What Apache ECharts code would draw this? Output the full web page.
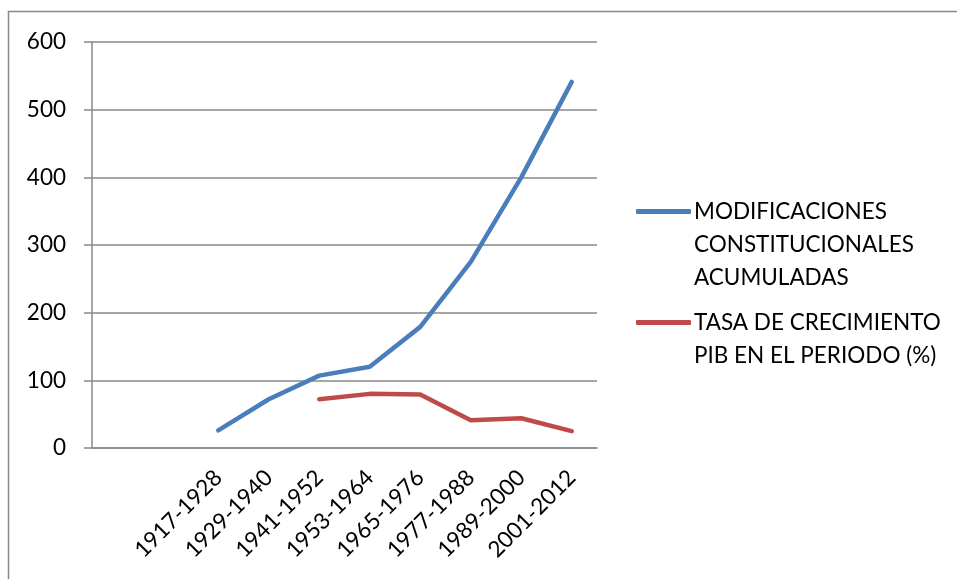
<!DOCTYPE html>
<html>
<head>
<meta charset="utf-8">
<script src="https://cdn.jsdelivr.net/npm/echarts@6/dist/echarts.min.js"></script>
<style>
  html, body { margin: 0; padding: 0; background: #fff; }
  #chart { width: 957px; height: 579px; }
</style>
</head>
<body>
<div id="chart"></div>
<script>
// periodos (las dos primeras casillas del eje van vacías, como en el original)
var periodos = ['', '', '1917-1928', '1929-1940', '1941-1952', '1953-1964',
  '1965-1976', '1977-1988', '1989-2000', '2001-2012'];
// modificaciones constitucionales acumuladas
var modificaciones = [null, null, 26, 72, 107, 120, 179, 275, 400, 541];
// tasa de crecimiento del PIB en el periodo (%)
var tasaPib = [null, null, null, null, 72, 80, 79, 41, 44, 25];
var yTicks = [0, 100, 200, 300, 400, 500, 600];

var nombreMod = 'MODIFICACIONES\nCONSTITUCIONALES\nACUMULADAS';
var nombrePib = 'TASA DE CRECIMIENTO\nPIB EN EL PERIODO (%)';

var font = 'Lato, "Liberation Sans", sans-serif';
var gris = '#888888';
var fs = 22.5;

var myChart = echarts.init(document.getElementById('chart'));
var option = {
  animation: false,
  textStyle: { fontFamily: font },
  graphic: [{
    // marco del gráfico
    type: 'rect',
    shape: { x: 8.5, y: 11.5, width: 1000, height: 1000 },
    style: { fill: 'none', stroke: gris, lineWidth: 1.5 }
  }],
  legend: [
    {
      data: [nombreMod],
      left: 636,
      top: 129,
      padding: 0,
      itemWidth: 55,
      itemHeight: 5,
      icon: 'roundRect',
      formatter: function (n) { return '\n\n' + n; },
      textStyle: { fontFamily: font, fontSize: fs, color: '#000', lineHeight: 33, padding: [0, 0, 0, -2] }
    },
    {
      data: [nombrePib],
      left: 636,
      top: 273,
      padding: 0,
      itemWidth: 55,
      itemHeight: 5,
      icon: 'roundRect',
      formatter: function (n) { return '\n' + n; },
      textStyle: { fontFamily: font, fontSize: fs, color: '#000', lineHeight: 33, padding: [0, 0, 0, -2] }
    }
  ],
  grid: { left: 92, right: 360, top: 42, bottom: 131 },
  xAxis: {
    type: 'category',
    data: periodos,
    boundaryGap: true,
    axisLine: { lineStyle: { color: gris, width: 1.5 } },
    axisTick: { length: 8, lineStyle: { color: gris, width: 1.5 } },
    axisLabel: { rotate: 45, fontSize: fs, color: '#000', margin: 26, interval: 0, fontFamily: font }
  },
  yAxis: {
    type: 'value',
    min: 0,
    max: 600,
    interval: 100,
    axisLine: { show: true, lineStyle: { color: gris, width: 1.5 } },
    axisTick: { show: true, length: 8, lineStyle: { color: gris, width: 1.5 } },
    splitLine: { lineStyle: { color: gris, width: 1.5 } },
    axisLabel: {
      fontSize: fs, color: '#000', margin: 26, fontFamily: font,
      formatter: function (v) { return yTicks.indexOf(v) >= 0 ? String(v) : ''; }
    }
  },
  series: [
    {
      name: nombreMod,
      type: 'line',
      data: modificaciones,
      showSymbol: false,
      symbol: 'none',
      color: '#4A7EBB',
      lineStyle: { width: 4.5, cap: 'round', join: 'round' }
    },
    {
      name: nombrePib,
      type: 'line',
      data: tasaPib,
      showSymbol: false,
      symbol: 'none',
      color: '#BE4B48',
      lineStyle: { width: 4.5, cap: 'round', join: 'round' }
    }
  ]
};
myChart.setOption(option);
window.addEventListener('resize', function () { myChart.resize(); });
</script>
</body>
</html>
